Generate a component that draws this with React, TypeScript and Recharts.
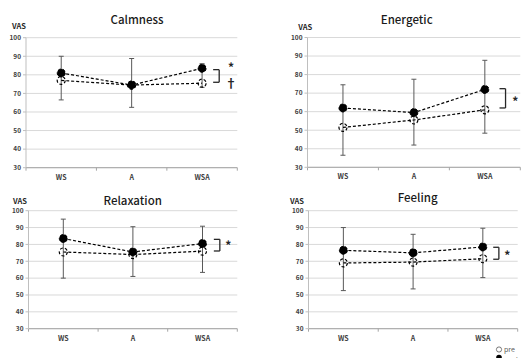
import React from 'react';
import { LineChart, Line, XAxis, YAxis, CartesianGrid, ErrorBar, ReferenceLine, ReferenceDot } from 'recharts';

const categories = ['WS', 'A', 'WSA'];
const yTicks = [30, 40, 50, 60, 70, 80, 90, 100];
const xTicks = [0, 1, 2, 3];
const legendLabels = ['pre', 'post'];

const calmnessPre = [77, 74.5, 75.5];
const calmnessPost = [81, 74.5, 83.5];
const calmnessHigh = [90, 88.8, 86];
const calmnessLow = [66.5, 62.5, 73.3];

const energeticPre = [51.5, 55.5, 61];
const energeticPost = [62, 59.5, 72];
const energeticHigh = [74.5, 77.5, 87.7];
const energeticLow = [36.5, 42, 48.4];

const relaxationPre = [75.5, 74, 76];
const relaxationPost = [83.5, 75.5, 80.5];
const relaxationHigh = [95, 90.5, 90.8];
const relaxationLow = [60, 61, 63.4];

const feelingPre = [69, 69.5, 71.5];
const feelingPost = [76.5, 75, 78.5];
const feelingHigh = [90, 86, 89.6];
const feelingLow = [52.6, 53.6, 60.3];

const W = 522;
const H = 358;
const FONT = "'Noto Sans CJK JP', 'Noto Sans', sans-serif";
const Y_AXIS_W = 20;
const X_AXIS_H = 12;

type Mark = { x: number; y: number; text: string; size: number };
type Panel = {
  title: string;
  pre: number[];
  post: number[];
  high: number[];
  low: number[];
  plotLeft: number;
  plotRight: number;
  plotTop: number;
  plotBottom: number;
  titleX: number;
  titleY: number;
  vasX: number;
  vasY: number;
  bracket: { x1: number; x2: number; yTop: number; yBottom: number };
  marks: Mark[];
};

const panels: Panel[] = [
  {
    title: 'Calmness', pre: calmnessPre, post: calmnessPost, high: calmnessHigh, low: calmnessLow,
    plotLeft: 26, plotRight: 237.3, plotTop: 37.7, plotBottom: 167.7,
    titleX: 137, titleY: 20, vasX: 12, vasY: 26,
    bracket: { x1: 2.657, x2: 2.743, yTop: 82.8, yBottom: 76 },
    marks: [
      { x: 2.91, y: 84.3, text: '*', size: 12 },
      { x: 2.91, y: 75.8, text: '†', size: 12 },
    ],
  },
  {
    title: 'Energetic', pre: energeticPre, post: energeticPost, high: energeticHigh, low: energeticLow,
    plotLeft: 307.5, plotRight: 520.3, plotTop: 37.5, plotBottom: 167.3,
    titleX: 406.7, titleY: 20, vasX: 298.3, vasY: 27,
    bracket: { x1: 2.707, x2: 2.792, yTop: 72.4, yBottom: 62 },
    marks: [{ x: 2.93, y: 66, text: '*', size: 12 }],
  },
  {
    title: 'Relaxation', pre: relaxationPre, post: relaxationPost, high: relaxationHigh, low: relaxationLow,
    plotLeft: 28.5, plotRight: 237.3, plotTop: 210.7, plotBottom: 328.7,
    titleX: 132.7, titleY: 201.3, vasX: 13, vasY: 201,
    bracket: { x1: 2.663, x2: 2.749, yTop: 83, yBottom: 76.1 },
    marks: [{ x: 2.87, y: 79.8, text: '*', size: 12 }],
  },
  {
    title: 'Feeling', pre: feelingPre, post: feelingPost, high: feelingHigh, low: feelingLow,
    plotLeft: 308.5, plotRight: 517.7, plotTop: 210.7, plotBottom: 328.7,
    titleX: 417.7, titleY: 198.3, vasX: 290, vasY: 201,
    bracket: { x1: 2.649, x2: 2.73, yTop: 78.3, yBottom: 71.2 },
    marks: [{ x: 2.85, y: 74.3, text: '*', size: 12 }],
  },
];

function buildRows(p: Panel) {
  return categories.map((c, i) => ({
    x: i + 0.5,
    name: c,
    pre: p.pre[i],
    post: p.post[i],
    err: [p.post[i] - p.low[i], p.high[i] - p.post[i]],
  }));
}

function makeXTick(band: number) {
  return (props: any) => {
    const { x, y, payload } = props;
    const v = payload.value;
    if (v >= 3) return <g />;
    return (
      <text x={x + band / 2} y={y + 9} textAnchor="middle" fontSize={7} fontWeight="bold" fill="#404040" fontFamily={FONT}>
        {categories[v]}
      </text>
    );
  };
}

function PanelChart({ p }: { p: Panel }) {
  const rows = buildRows(p);
  const band = (p.plotRight - p.plotLeft) / 3;
  const margin = {
    top: p.plotTop,
    left: p.plotLeft - Y_AXIS_W,
    right: W - p.plotRight,
    bottom: H - p.plotBottom - X_AXIS_H,
  };
  const b = p.bracket;
  return (
    <div style={{ position: 'absolute', left: 0, top: 0, width: W, height: H, pointerEvents: 'none' }}>
      <LineChart width={W} height={H} data={rows} margin={margin}>
        <CartesianGrid horizontal vertical={false} stroke="#d9d9d9" strokeWidth={1} />
        <XAxis
          type="number"
          dataKey="x"
          domain={[0, 3]}
          ticks={xTicks}
          interval={0}
          allowDataOverflow
          height={X_AXIS_H}
          tickSize={3}
          tickMargin={0}
          axisLine={{ stroke: '#a6a6a6' }}
          tickLine={{ stroke: '#a6a6a6' }}
          tick={makeXTick(band)}
        />
        <YAxis
          type="number"
          domain={[30, 100]}
          ticks={yTicks}
          interval={0}
          allowDataOverflow
          width={Y_AXIS_W}
          tickSize={3}
          tickMargin={2}
          axisLine={{ stroke: '#bfbfbf' }}
          tickLine={{ stroke: '#bfbfbf' }}
          tick={{ fontSize: 6.5, fontWeight: 'bold', fill: '#404040', fontFamily: FONT }}
        />
        <Line
          dataKey="post"
          stroke="#000"
          strokeWidth={1.2}
          strokeDasharray="3 2"
          dot={{ r: 4, fill: '#000', stroke: '#000', strokeWidth: 1 }}
          activeDot={false}
          isAnimationActive={false}
        >
          <ErrorBar dataKey="err" direction="y" width={2.5} stroke="#595959" strokeWidth={1} isAnimationActive={false} />
        </Line>
        <Line
          dataKey="pre"
          stroke="#000"
          strokeWidth={1.2}
          strokeDasharray="3 2"
          dot={{ r: 4, fill: 'none', stroke: '#000', strokeWidth: 1.2 }}
          activeDot={false}
          isAnimationActive={false}
        />
        <ReferenceLine segment={[{ x: b.x1, y: b.yTop }, { x: b.x2, y: b.yTop }]} stroke="#262626" strokeWidth={1.3} ifOverflow="visible" />
        <ReferenceLine segment={[{ x: b.x2, y: b.yTop }, { x: b.x2, y: b.yBottom }]} stroke="#262626" strokeWidth={1.3} ifOverflow="visible" />
        <ReferenceLine segment={[{ x: b.x1, y: b.yBottom }, { x: b.x2, y: b.yBottom }]} stroke="#262626" strokeWidth={1.3} ifOverflow="visible" />
        {p.marks.map((m, i) => (
          <ReferenceDot
            key={i}
            x={m.x}
            y={m.y}
            r={0}
            ifOverflow="visible"
            shape={(sp: any) => (
              <text x={sp.cx} y={sp.cy} textAnchor="middle" dominantBaseline="central" fontSize={m.size} fontWeight="bold" fill="#262626" fontFamily={FONT}>
                {m.text}
              </text>
            )}
          />
        ))}
      </LineChart>
      <div style={{ position: 'absolute', left: p.titleX, top: p.titleY, transform: 'translate(-50%, -50%)', fontFamily: FONT, fontSize: 11.5, fontWeight: 500, color: '#1a1a1a', whiteSpace: 'nowrap', lineHeight: 1 }}>
        {p.title}
      </div>
      <div style={{ position: 'absolute', left: p.vasX, top: p.vasY, transform: 'translateY(-50%)', fontFamily: FONT, fontSize: 7.5, fontWeight: 'bold', color: '#262626', whiteSpace: 'nowrap', lineHeight: 1 }}>
        VAS
      </div>
    </div>
  );
}

export default function App() {
  return (
    <div style={{ position: 'absolute', left: 0, top: 0, width: W, height: H, overflow: 'hidden', background: '#fff' }}>
      {panels.map((p) => (
        <PanelChart key={p.title} p={p} />
      ))}
      <svg style={{ position: 'absolute', left: 0, top: 0 }} width={W} height={H}>
        <circle cx={499} cy={349.5} r={2.6} fill="#fff" stroke="#595959" strokeWidth={0.8} />
        <text x={504} y={352} fontSize={7} fill="#595959" fontFamily={FONT}>{legendLabels[0]}</text>
        <circle cx={499} cy={357.5} r={2.8} fill="#000" />
        <text x={504} y={361.5} fontSize={7} fill="#595959" fontFamily={FONT}>{legendLabels[1]}</text>
      </svg>
    </div>
  );
}
